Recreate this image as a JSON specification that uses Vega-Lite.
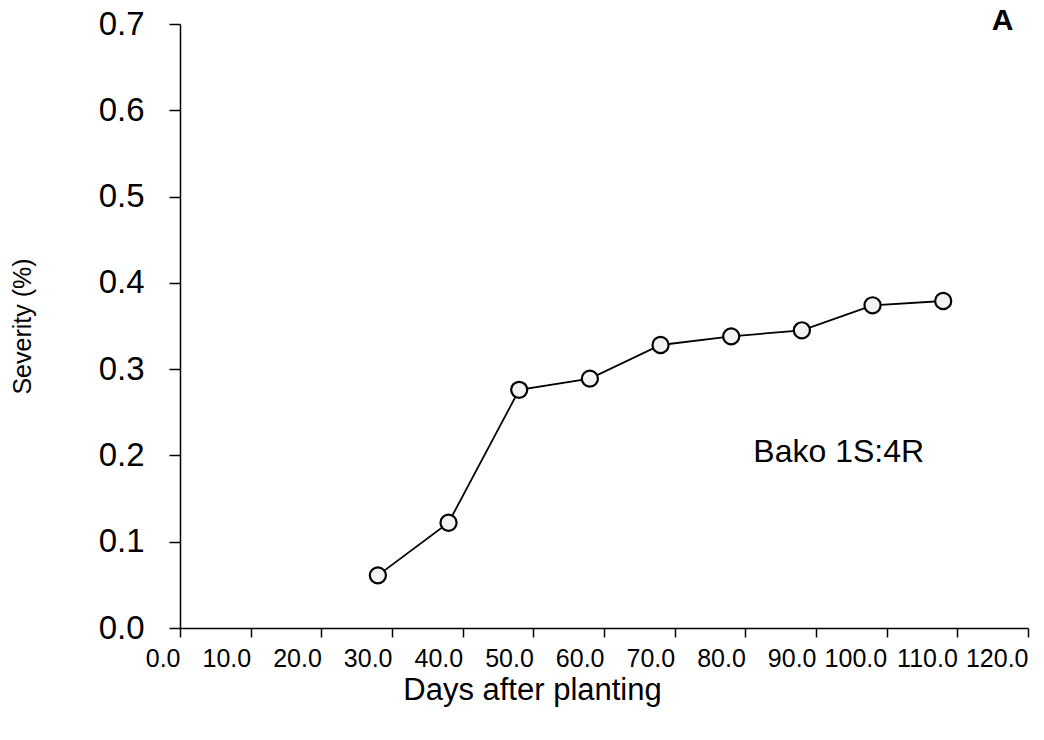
{
  "$schema": "https://vega.github.io/schema/vega-lite/v6.json",
  "autosize": {"type": "none"},
  "width": 848,
  "height": 604,
  "padding": {"left": 180, "top": 24, "right": 16, "bottom": 112},
  "background": "white",
  "config": {
    "view": {"stroke": null},
    "font": "Liberation Sans",
    "axis": {"grid": false, "domainColor": "black", "tickColor": "black", "labelColor": "black", "titleColor": "black", "titleFontWeight": "normal", "domainWidth": 1.5, "tickWidth": 1.5}
  },
  "data": {
    "values": [
      {"day": 28, "severity": 0.061},
      {"day": 38, "severity": 0.122},
      {"day": 48, "severity": 0.276},
      {"day": 58, "severity": 0.289},
      {"day": 68, "severity": 0.328},
      {"day": 78, "severity": 0.338},
      {"day": 88, "severity": 0.345},
      {"day": 98, "severity": 0.374},
      {"day": 108, "severity": 0.379}
    ]
  },
  "encoding": {
    "x": {
      "field": "day", "type": "quantitative",
      "scale": {"domain": [0, 120], "nice": false, "zero": false},
      "axis": {
        "title": "Days after planting", "format": ".1f", "values": [0,10,20,30,40,50,60,70,80,90,100,110,120],
        "labelFontSize": 25, "labelPadding": 9, "tickSize": 9, "labelFlush": false, "labelOverlap": false,
        "labelAlign": "right", "labelDx": 7,
        "titleFontSize": 31, "titleX": 352, "titleY": 62, "titleAlign": "center", "titleBaseline": "middle"
      }
    },
    "y": {
      "field": "severity", "type": "quantitative",
      "scale": {"domain": [0, 0.7], "nice": false},
      "axis": {
        "title": "Severity (%)", "format": ".1f", "values": [0,0.1,0.2,0.3,0.4,0.5,0.6,0.7],
        "labelFontSize": 33, "labelPadding": 25, "tickSize": 11, "labelFlush": false, "labelOverlap": false,
        "titleFontSize": 25, "titleAngle": -90, "titleX": -158, "titleY": 302, "titleAlign": "center", "titleBaseline": "middle"
      }
    }
  },
  "layer": [
    {"mark": {"type": "line", "color": "black", "strokeWidth": 1.8}},
    {"mark": {"type": "point", "shape": "circle", "size": 260, "filled": true, "fill": "#f2f2f2", "stroke": "black", "strokeWidth": 2.2, "opacity": 1}},
    {
      "data": {"values": [{"day": 105.3, "severity": 0.204, "label": "Bako 1S:4R"}]},
      "mark": {"type": "text", "fontSize": 32, "align": "right", "baseline": "middle", "color": "black"},
      "encoding": {"text": {"field": "label"}}
    },
    {
      "data": {"values": [{"day": 116.4, "severity": 0.703, "label": "A"}]},
      "mark": {"type": "text", "fontSize": 30, "fontWeight": "bold", "align": "center", "baseline": "middle", "color": "black"},
      "encoding": {"text": {"field": "label"}}
    }
  ]
}
